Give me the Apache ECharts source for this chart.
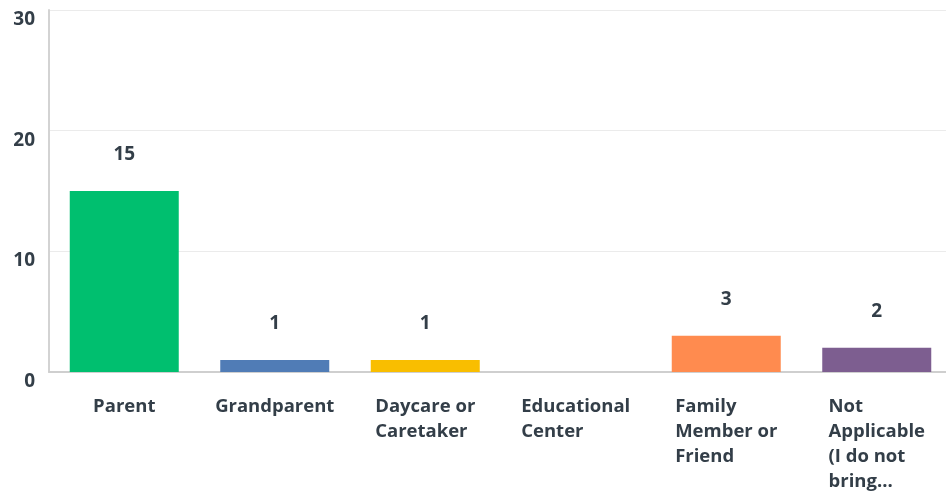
<!DOCTYPE html>
<html>
<head>
<meta charset="utf-8">
<script src="https://cdn.jsdelivr.net/npm/echarts@6/dist/echarts.min.js"></script>
<style>
  html, body { margin: 0; padding: 0; background: #fff; }
  #chart { width: 946px; height: 493px; }
</style>
</head>
<body>
<div id="chart"></div>
<script>
var categories = ["Parent", "Grandparent", "Daycare or\nCaretaker", "Educational\nCenter", "Family\nMember or\nFriend", "Not\nApplicable\n(I do not\nbring..."];
var values = [15, 1, 1, 0, 3, 2];
var barColors = ["#00bf6f", "#507cb6", "#f9be00", "#6bc8cd", "#ff8b4f", "#7d5e90"];
var yTicks = [0, 10, 20, 30];

(function () {
    var myChart = echarts.init(document.getElementById("chart"));
    var textColor = "#333e48";
    var fontFamily = "'Open Sans', sans-serif";

    var option = {
        backgroundColor: "#fff",
        animation: false,
        grid: {
            left: 49,
            top: 10,
            width: 903,
            height: 362,
            outerBoundsMode: "none",
            containLabel: false
        },
        xAxis: {
            type: "category",
            data: categories,
            axisTick: { show: false },
            axisLine: { show: true, lineStyle: { color: "#cfcfcf", width: 2 } },
            axisLabel: {
                interval: 0,
                margin: 22,
                align: "center",
                verticalAlign: "top",
                formatter: function (v) {
                    return v.split("\n").map(function (s) { return "{a|" + s + "}"; }).join("\n");
                },
                rich: {
                    a: {
                        align: "left",
                        color: textColor,
                        fontFamily: fontFamily,
                        fontSize: 18.5,
                        fontWeight: 700,
                        lineHeight: 25
                    }
                }
            }
        },
        yAxis: {
            type: "value",
            min: yTicks[0],
            max: yTicks[yTicks.length - 1],
            interval: 10,
            axisLine: { show: true, lineStyle: { color: "#d3d3d3", width: 2 } },
            axisTick: { show: false },
            splitLine: { show: true, lineStyle: { color: "#ebebeb", width: 1 } },
            axisLabel: {
                margin: 14,
                verticalAlign: "top",
                color: textColor,
                fontFamily: fontFamily,
                fontSize: 19,
                fontWeight: 700
            }
        },
        series: [{
            type: "bar",
            barWidth: 109,
            data: values.map(function (v, i) {
                return {
                    value: v,
                    itemStyle: { color: barColors[i] },
                    label: { show: v > 0 }
                };
            }),
            label: {
                show: true,
                position: "top",
                distance: 27,
                color: textColor,
                fontFamily: fontFamily,
                fontSize: 19,
                fontWeight: 700
            }
        }]
    };

    myChart.setOption(option);
    window.addEventListener("resize", function () {
        myChart.resize();
    });
})();
</script>
</body>
</html>
